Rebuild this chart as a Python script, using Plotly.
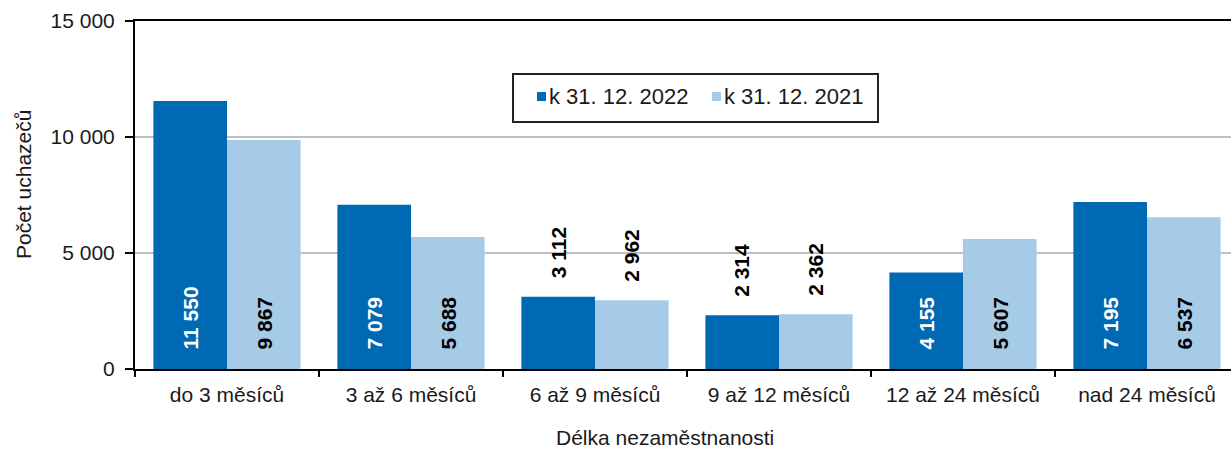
import plotly.graph_objects as go

categories = ["do 3 měsíců", "3 až 6 měsíců", "6 až 9 měsíců", "9 až 12 měsíců", "12 až 24 měsíců", "nad 24 měsíců"]
series_2022 = [11550, 7079, 3112, 2314, 4155, 7195]
series_2021 = [9867, 5688, 2962, 2362, 5607, 6537]
series_names = ["k 31. 12. 2022", "k 31. 12. 2021"]
y_ticks = [0, 5000, 10000, 15000]

DARK = "#0069B4"
LIGHT = "#A6CBE7"
FONT = "Liberation Sans, Arial, sans-serif"

W, H = 1231, 450
ML, MR, MT, MB = 135, 0, 21, 81
PW = W - ML - MR
PH = H - MT - MB
CAT_PX = 184.0


def fmt(v):
    return f"{v:,}".replace(",", " ")


def px(x):
    return (x - ML) / PW


def py(y):
    return (H - MB - y) / PH


fig = go.Figure()
fig.add_trace(go.Bar(x=categories, y=series_2022, name=series_names[0], marker_color=DARK,
                     marker_line_width=0, showlegend=False, hoverinfo="x+y"))
fig.add_trace(go.Bar(x=categories, y=series_2021, name=series_names[1], marker_color=LIGHT,
                     marker_line_width=0, showlegend=False, hoverinfo="x+y"))

annotations = []
# value labels
for series, shift, col_in in ((series_2022, -37, "white"), (series_2021, 37, "black")):
    for cat, v in zip(categories, series):
        outside = v < 3500
        annotations.append(dict(
            x=cat, y=(v if outside else 0), xref="x", yref="y",
            text=fmt(v), textangle=-90, showarrow=False,
            xanchor="center", yanchor="bottom", xshift=shift, yshift=(16 if outside else 17),
            font=dict(family=FONT, size=21, color=("black" if outside else col_in), weight="bold"),
        ))

# axis titles
annotations.append(dict(x=px(665), y=py(437), xref="paper", yref="paper", text="Délka nezaměstnanosti",
                        showarrow=False, xanchor="center", yanchor="middle",
                        font=dict(family=FONT, size=21, color="#1a1a1a")))
annotations.append(dict(x=px(23), y=py(185), xref="paper", yref="paper", text="Počet uchazečů",
                        showarrow=False, xanchor="center", yanchor="middle", textangle=-90,
                        font=dict(family=FONT, size=21, color="#1a1a1a")))

# custom legend
shapes = [dict(type="rect", xref="paper", yref="paper", x0=px(513), x1=px(878), y0=py(122), y1=py(74),
               line=dict(color="#222222", width=2), fillcolor="white", layer="above")]
legend_items = [(537, 547, DARK, series_names[0]), (712, 722, LIGHT, series_names[1])]
for sx, tx, col, name in legend_items:
    shapes.append(dict(type="rect", xref="paper", yref="paper", x0=px(sx), x1=px(sx + 9),
                       y0=py(101), y1=py(92), line=dict(width=0), fillcolor=col, layer="above"))
    annotations.append(dict(x=px(tx), y=py(97), xref="paper", yref="paper", text=name, showarrow=False,
                            xanchor="left", yanchor="middle",
                            font=dict(family=FONT, size=22, color="#1a1a1a")))

fig.update_layout(
    width=W, height=H,
    margin=dict(l=ML, r=MR, t=MT, b=MB, autoexpand=False),
    barmode="group", bargap=0.2, bargroupgap=0,
    plot_bgcolor="white", paper_bgcolor="white",
    separators=", ",
    annotations=annotations, shapes=shapes,
    showlegend=False,
    font=dict(family=FONT, size=21, color="#1a1a1a"),
)
fig.update_xaxes(
    range=[-0.5, -0.5 + PW / CAT_PX], showline=True, linecolor="black", linewidth=2, mirror=True,
    ticks="outside", tickson="boundaries", ticklen=6, tickcolor="black", tickwidth=2,
    ticklabelstandoff=6,
    showgrid=False, tickfont=dict(family=FONT, size=21, color="#1a1a1a"), fixedrange=True,
)
fig.update_yaxes(
    range=[0, 15000], tickvals=y_ticks, ticktext=[fmt(t) for t in y_ticks],
    showline=True, linecolor="black", linewidth=2, ticks="outside", ticklen=8,
    tickcolor="black", tickwidth=2, showgrid=True, gridcolor="#BFBFBF", gridwidth=1.5,
    zeroline=False, ticklabelstandoff=6, tickfont=dict(family=FONT, size=21, color="#1a1a1a"),
    fixedrange=True,
)

fig.write_html("out.html", config={"displayModeBar": False},
               post_script="document.body.style.margin='0';document.body.style.overflow='hidden';")
